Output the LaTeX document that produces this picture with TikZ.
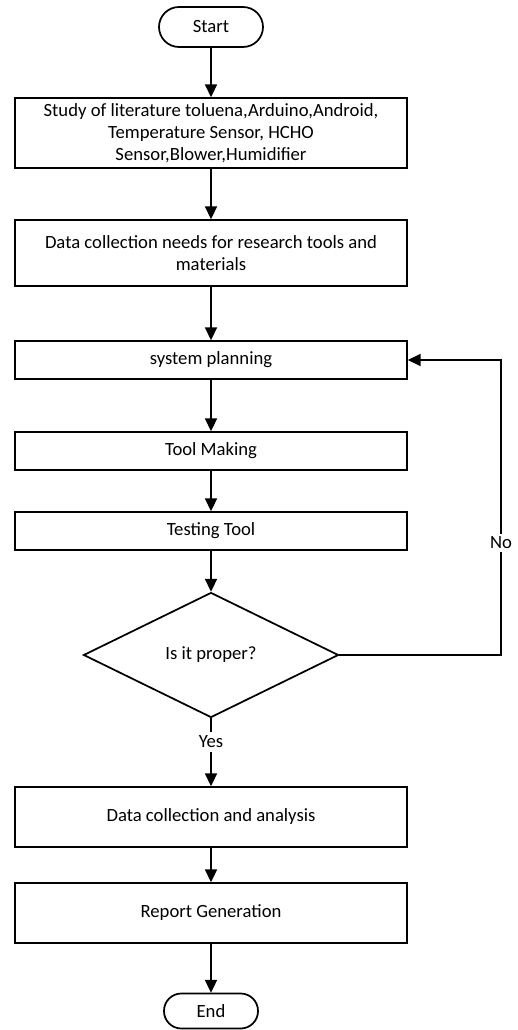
\documentclass[tikz,border=0pt]{standalone}
\usepackage{fontspec}
\setmainfont{Carlito}
\usetikzlibrary{arrows.meta,shapes.geometric}
\begin{document}
\begin{tikzpicture}[x=0.75pt,y=-0.75pt,
  every node/.style={font=\fontsize{14pt}{16.5pt}\selectfont},
  procbox/.style={draw, line width=1.3pt, minimum width=294pt, inner sep=0pt, align=center},
  termbox/.style={draw, line width=1.3pt, inner sep=0pt},
  decision/.style={draw, diamond, line width=1.3pt, minimum width=191.25pt, minimum height=93.75pt, inner sep=0pt, aspect=2},
  flow/.style={line width=1.3pt, -{Triangle[length=9.5pt,width=9pt]}},
  plainline/.style={line width=1.3pt}]
\useasboundingbox (0,0) rectangle (517,1030);

\node[termbox, minimum width=78pt, minimum height=30pt, rounded corners=15pt] (start) at (211,27) {Start};
\node[procbox, minimum height=52.5pt] (b1) at (211,133) {Study of literature toluena,Arduino,Android,\\Temperature Sensor, HCHO\\Sensor,Blower,Humidifier};
\node[procbox, minimum height=49.5pt] (b2) at (211,253) {Data collection needs for research tools and\\materials};
\node[procbox, minimum height=28.5pt] (b3) at (211,360) {system planning};
\node[procbox, minimum height=28.5pt] (b4) at (211,451) {Tool Making};
\node[procbox, minimum height=28.5pt] (b5) at (211,531) {Testing Tool};
\node[decision] (dec) at (211,655) {Is it proper?};
\node[inner sep=3pt] (yes) at (211,742) {Yes};
\node[procbox, minimum height=45pt] (b6) at (211,817) {Data collection and analysis};
\node[procbox, minimum height=45pt] (b7) at (211,913) {Report Generation};
\node[termbox, minimum width=70.5pt, minimum height=26.25pt, rounded corners=13pt] (end) at (211,1011) {End};

\coordinate (c1) at (501,655);
\coordinate (c2) at (501,360);

\draw[flow] (start) -- (b1);
\draw[flow] (b1) -- (b2);
\draw[flow] (b2) -- (b3);
\draw[flow] (b3) -- (b4);
\draw[flow] (b4) -- (b5);
\draw[flow] (b5) -- (dec);
\draw[plainline] (dec.south) -- (yes.north);
\draw[flow] (yes.south) -- (b6.north);
\draw[flow] (b6) -- (b7);
\draw[flow] (b7) -- (end);
\draw[flow] (dec.east) -- (c1) -- (c2) -- (b3.east);
\node[fill=white, inner sep=2pt] (no) at (501,543) {No};
\end{tikzpicture}
\end{document}
